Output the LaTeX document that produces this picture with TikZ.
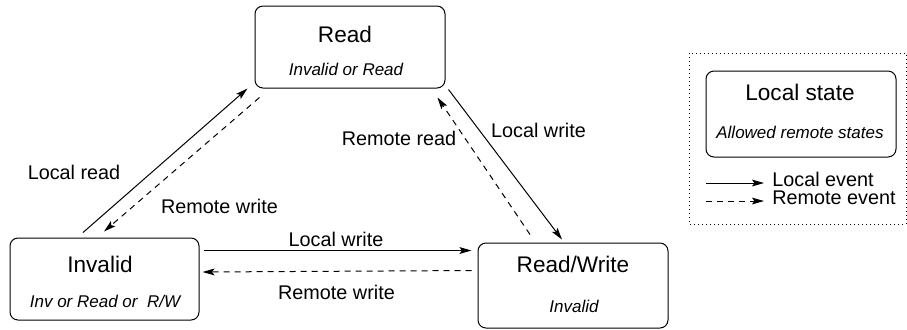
\documentclass[tikz,border=0pt]{standalone}
\usepackage{fontspec}
\setmainfont{Liberation Sans}
\usetikzlibrary{arrows.meta}
\begin{document}
\begin{tikzpicture}[x=0.5pt,y=-0.5pt,
    statebox/.style={draw,rounded corners=4pt,line width=0.5pt,inner sep=0pt},
    title/.style={anchor=base,font=\fontsize{11.3pt}{13pt}\selectfont},
    remote/.style={anchor=base,font=\fontsize{8.5pt}{10pt}\selectfont\itshape},
    lbl/.style={anchor=base,font=\fontsize{9.9pt}{12pt}\selectfont},
    localev/.style={line width=0.5pt,-{Stealth[length=6pt,width=3.4pt,inset=1.2pt]}},
    remoteev/.style={localev,dash pattern=on 3pt off 2.5pt}]
      \useasboundingbox (0,0) rectangle (907,329);

      \node[statebox,minimum width=95pt,minimum height=41pt] (read) at (350,47){};
      \node[title] (readt) at (345,42){Read};
      \node[remote] (readr) at (346,75){Invalid or Read};

      \node[statebox,minimum width=94.5pt,minimum height=41pt] (inv) at (104.5,279){};
      \node[title] (invt) at (100,272){Invalid};
      \node[remote] (invr) at (105,307){Inv or Read or\ \ R/W};

      \node[statebox,minimum width=95pt,minimum height=42.5pt] (rw) at (573,285.5){};
      \node[title] (rwt) at (573,272){Read/Write};
      \node[remote] (rwr) at (574,312){Invalid};

      \draw[localev] ([shift={(-21.5,-5)}]inv.north) to ([shift={(-7,0)}]read.south west);
      \draw[remoteev] ([shift={(5,9)}]read.south west) to ([shift={(-0.5,-6)}]inv.north);
      \draw[localev] ([shift={(3,1)}]read.south east) to ([shift={(-11,-3)}]rw.north);
      \draw[remoteev] ([shift={(-43,-8)}]rw.north) to ([shift={(-8,9)}]read.south east);
      \draw[localev] ([shift={(4,13)}]inv.north east) to ([shift={(-6,8)}]rw.north west);
      \draw[remoteev] ([shift={(-6,28)}]rw.north west) to ([shift={(3,-7)}]inv.east);

      \node[lbl] (lread) at (74,179){Local read};
      \node[lbl] (rwrite1) at (219.5,213){Remote write};
      \node[lbl] (rread) at (399,145){Remote read};
      \node[lbl] (lwrite1) at (538.5,137){Local write};
      \node[lbl] (lwrite2) at (336,246){Local write};
      \node[lbl] (rwrite2) at (336.5,299){Remote write};

      % legend
      \draw[line width=0.5pt,dash pattern=on 0.5pt off 1.5pt] (689,53) rectangle (906,224);
      \node[statebox,minimum width=95pt,minimum height=43pt] (key) at (801,114){};
      \node[title] (keyt) at (800,100){Local state};
      \node[remote] (keyr) at (800,138){Allowed remote states};
      \coordinate (ls) at (706,183);
      \coordinate (rs) at (706,201);
      \node[lbl,anchor=base west,inner sep=0pt] (lev) at (772,186){Local event};
      \node[lbl,anchor=base west,inner sep=0pt] (rev) at (772,204){Remote event};
      \draw[localev] (ls) to ([xshift=-4pt]lev.base west |- ls);
      \draw[remoteev] (rs) to ([xshift=-4pt]rev.base west |- rs);
    \end{tikzpicture}
\end{document}
